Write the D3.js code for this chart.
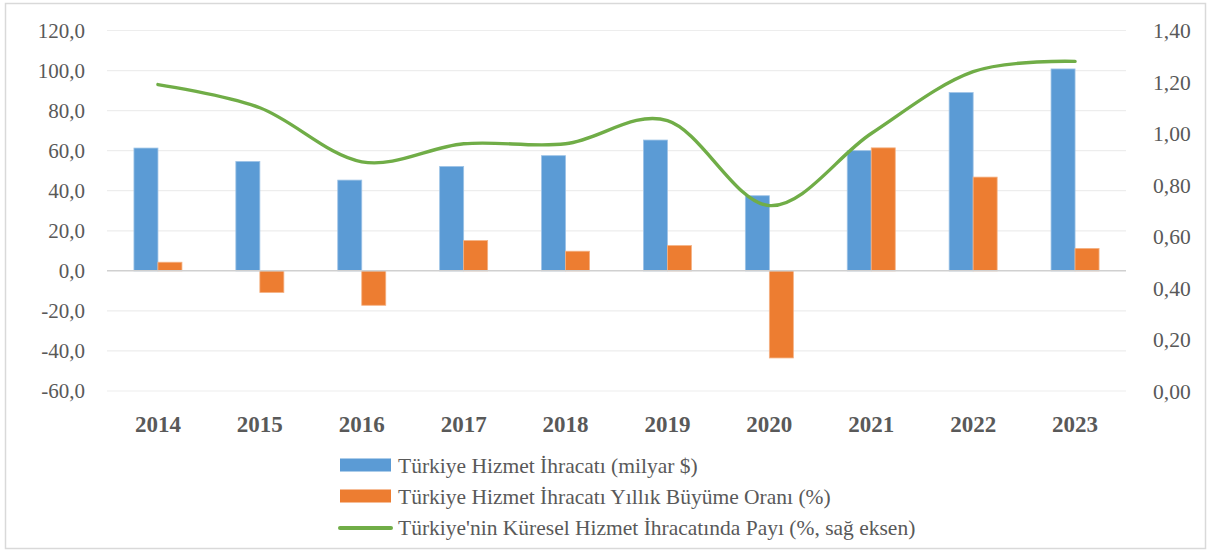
<!DOCTYPE html>
<html>
<head>
<meta charset="utf-8">
<script src="https://cdn.jsdelivr.net/npm/d3@7"></script>
<style>
  body { margin: 0; background: #fff; }
</style>
</head>
<body>
<div id="chart"></div>
<script>
// data
const years = ["2014","2015","2016","2017","2018","2019","2020","2021","2022","2023"]
const exports = [61.3, 54.6, 45.3, 52.1, 57.5, 65.3, 37.5, 60.0, 89.0, 100.8]   // milyar $
const growth = [4.3, -10.8, -17.2, 15.1, 9.8, 12.6, -43.5, 61.4, 46.8, 11.2]   // %
const share = [1.19, 1.10, 0.89, 0.96, 0.96, 1.05, 0.72, 1.00, 1.24, 1.28]   // %, right axis
const leftTicks = [-60, -40, -20, 0, 20, 40, 60, 80, 100, 120]
const rightTicks = [0, 0.2, 0.4, 0.6, 0.8, 1.0, 1.2, 1.4]
const legendLabels = [
  "Türkiye Hizmet İhracatı (milyar $)",
  "Türkiye Hizmet İhracatı Yıllık Büyüme Oranı (%)",
  "Türkiye'nin Küresel Hizmet İhracatında Payı (%, sağ eksen)"
]

const W = 1211, H = 552
const blue = "#5B9BD5", orange = "#ED7D31", green = "#70AD47", grey = "#595959"
const serif = "Liberation Serif"

const trLocale = d3.formatLocale({decimal: ",", thousands: ".", grouping: [3], currency: ["", ""], minus: "-"})
const f1 = trLocale.format(".1f"), f2 = trLocale.format(".2f")

const svg = d3.select("#chart").append("svg").attr("width", W).attr("height", H)

// outer frame
svg.append("rect").attr("x", 5.5).attr("y", 3.5).attr("width", 1200).attr("height", 545)
  .attr("fill", "#fff").attr("stroke", "#D9D9D9").attr("stroke-width", 1.5)

const x = d3.scaleBand().domain(years).range([107, 1126])
const yL = d3.scaleLinear().domain([-60, 120]).range([391, 30.5])
const yR = d3.scaleLinear().domain([0, 1.4]).range([391, 30.5])

const groupW = 48
const x1 = d3.scaleBand().domain(["exp", "gro"]).range([0, groupW])
const gx = d => x(d) + (x.bandwidth() - groupW) / 2

// gridlines
svg.append("g").selectAll("line").data(leftTicks.filter(t => t !== 0)).join("line")
  .attr("x1", 107).attr("x2", 1126)
  .attr("y1", d => yL(d)).attr("y2", d => yL(d))
  .attr("stroke", "#EDEDED").attr("stroke-width", 1.2)

// left axis labels
svg.append("g").selectAll("text").data(leftTicks).join("text")
  .attr("x", 85).attr("y", d => yL(d)).attr("dy", "0.35em")
  .attr("text-anchor", "end").attr("font-family", serif).attr("font-size", 21).attr("fill", grey)
  .text(d => f1(d))

// right axis labels
svg.append("g").selectAll("text").data(rightTicks).join("text")
  .attr("x", 1153).attr("y", d => yR(d)).attr("dy", "0.35em")
  .attr("text-anchor", "start").attr("font-family", serif).attr("font-size", 21.5).attr("fill", grey)
  .text(d => f2(d))

// bars
const bars = svg.append("g")
bars.selectAll(".exp").data(years).join("rect").attr("class", "exp")
  .attr("x", (d) => gx(d) + x1("exp"))
  .attr("width", x1.bandwidth())
  .attr("y", (d, i) => yL(Math.max(0, exports[i])))
  .attr("height", (d, i) => Math.abs(yL(exports[i]) - yL(0)))
  .attr("fill", blue).attr("stroke", "#9DC3E6").attr("stroke-width", 0.8)

bars.selectAll(".gro").data(years).join("rect").attr("class", "gro")
  .attr("x", (d) => gx(d) + x1("gro"))
  .attr("width", x1.bandwidth())
  .attr("y", (d, i) => yL(Math.max(0, growth[i])))
  .attr("height", (d, i) => Math.abs(yL(growth[i]) - yL(0)))
  .attr("fill", orange).attr("stroke", "#F4B183").attr("stroke-width", 0.8)

// zero line
svg.append("line").attr("x1", 107).attr("x2", 1126)
  .attr("y1", yL(0)).attr("y2", yL(0))
  .attr("stroke", "#D0D0D0").attr("stroke-width", 1.5)

// share line (smoothed like excel)
const line = d3.line()
  .x((d, i) => x(years[i]) + x.bandwidth() / 2)
  .y(d => yR(d))
  .curve(d3.curveCatmullRom.alpha(0))
svg.append("path").datum(share).attr("d", line)
  .attr("fill", "none").attr("stroke", green).attr("stroke-width", 3.4)
  .attr("stroke-linecap", "round")

// year labels
svg.append("g").selectAll("text").data(years).join("text")
  .attr("x", d => x(d) + x.bandwidth() / 2).attr("y", 432)
  .attr("text-anchor", "middle").attr("font-family", serif).attr("font-size", 23).attr("font-weight", "bold")
  .attr("fill", grey).text(d => d)

// legend
const lg = svg.append("g")
const rowY = [465, 496, 527]
legendLabels.forEach((lab, i) => {
  if (i < 2) {
    lg.append("rect").attr("x", 340).attr("y", rowY[i] - 6.5).attr("width", 51).attr("height", 13)
      .attr("fill", i === 0 ? blue : orange)
  } else {
    lg.append("line").attr("x1", 340).attr("x2", 391).attr("y1", rowY[i] + 1).attr("y2", rowY[i] + 1)
      .attr("stroke", green).attr("stroke-width", 4).attr("stroke-linecap", "round")
  }
  lg.append("text").attr("x", 398).attr("y", rowY[i]).attr("dy", "0.35em")
    .attr("font-family", serif).attr("font-size", 21.5).attr("fill", grey).text(lab)
})
</script>
</body>
</html>
